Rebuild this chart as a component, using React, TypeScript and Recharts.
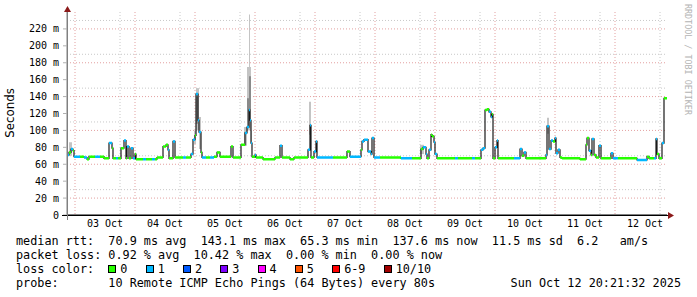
import { ComposedChart, Line, Area, XAxis, YAxis, CartesianGrid } from 'recharts'

const days = ['03 Oct', '04 Oct', '05 Oct', '06 Oct', '07 Oct', '08 Oct', '09 Oct', '10 Oct', '11 Oct', '12 Oct']
const yTicks = [0, 20, 40, 60, 80, 100, 120, 140, 160, 180, 200, 220]
const yMinor = [10, 30, 50, 70, 90, 110, 130, 150, 170, 190, 210, 230]
const hourStart = -3.2
const hourEnd = 236.8

// hours after 03 Oct 00:00 where the median rtt steps, value in ms, lost pings out of 10
const medianHour = [
  -3.2, -2.4, -1.6, -0.8, -0.4, 2.0, 3.6, 4.8, 5.6, 8.0, 10.0, 11.6, 13.6, 14.8, 15.2, 16.4, 17.2, 18.4, 19.6, 20.4,
  20.8, 21.6, 22.4, 23.2, 24.0, 24.4, 27.2, 28.4, 30.8, 32.0, 32.8, 35.2, 36.4, 37.2, 37.6, 39.2, 40.0, 43.2, 44.4, 46.4,
  47.2, 48.0, 48.4, 49.2, 49.6, 50.4, 50.8, 52.4, 54.0, 55.6, 56.8, 58.0, 62.4, 63.2, 66.4, 68.0, 68.8, 69.6, 70.0, 70.4,
  70.8, 72.0, 72.4, 75.2, 80.0, 82.0, 82.8, 86.0, 87.6, 93.2, 94.0, 94.4, 95.6, 96.4, 96.8, 103.2, 108.8, 110.0, 114.4, 114.8,
  115.6, 117.2, 118.4, 118.8, 119.6, 122.0, 130.4, 134.8, 138.4, 139.2, 140.4, 140.8, 141.6, 142.4, 142.8, 143.6, 144.0, 144.8, 152.0, 153.2,
  158.8, 160.0, 162.4, 163.2, 164.0, 164.8, 165.6, 166.4, 166.8, 167.2, 168.0, 168.8, 169.2, 175.6, 178.0, 178.8, 179.6, 180.4, 188.4, 188.8,
  189.6, 190.4, 191.2, 192.0, 192.4, 193.2, 194.0, 194.8, 202.0, 204.4, 204.8, 205.6, 206.4, 206.8, 207.6, 208.4, 209.6, 210.4, 214.4, 215.2,
  217.2, 224.8, 228.8, 229.6, 231.6, 232.4, 232.8, 233.6, 234.8, 235.6,
]
const medianMs = [
  71, 74, 78, 76, 69, 69, 68, 66, 69, 69, 69, 67, 85, 79, 67, 67, 67, 79, 88, 67,
  81, 67, 79, 67, 72, 66, 66, 66, 66, 66, 68, 81, 83, 77, 67, 87, 68, 68, 68, 72,
  89, 94, 143, 112, 98, 74, 68, 68, 68, 69, 74, 69, 81, 68, 83, 97, 104, 124, 112, 85,
  69, 71, 68, 66, 68, 82, 68, 66, 68, 77, 106, 68, 75, 87, 68, 68, 75, 69, 77, 87,
  89, 75, 72, 91, 68, 68, 67, 67, 78, 80, 72, 67, 77, 95, 93, 86, 72, 67, 67, 67,
  67, 67, 77, 79, 124, 125, 122, 116, 119, 67, 80, 88, 67, 67, 78, 70, 74, 67, 71, 105,
  78, 88, 87, 91, 73, 77, 68, 67, 66, 83, 91, 76, 71, 90, 71, 68, 82, 67, 73, 67,
  67, 65, 69, 67, 67, 90, 72, 67, 85, 138,
]
const medianLoss = [
  1, 0, 1, 0, 1, 0, 1, 0, 0, 1, 0, 0, 1, 0, 0, 1, 0, 0, 1, 0,
  1, 0, 1, 1, 0, 0, 1, 0, 1, 0, 0, 0, 0, 1, 0, 1, 0, 1, 0, 1,
  1, 0, 1, 1, 1, 0, 1, 0, 1, 0, 0, 0, 0, 0, 0, 1, 1, 1, 1, 1,
  0, 1, 0, 0, 0, 1, 0, 0, 0, 1, 1, 0, 1, 1, 1, 0, 0, 1, 0, 1,
  1, 1, 1, 1, 1, 0, 1, 0, 0, 1, 1, 0, 1, 0, 0, 1, 1, 0, 1, 0,
  1, 0, 1, 1, 0, 0, 1, 1, 0, 0, 1, 1, 0, 1, 1, 0, 1, 0, 1, 1,
  1, 1, 0, 1, 1, 1, 0, 0, 0, 0, 0, 1, 0, 1, 0, 0, 1, 0, 1, 1,
  0, 1, 0, 0, 1, 1, 0, 0, 1, 0,
]

// smoke (spread of the single pings) around the spikes
const smokeFrom = [-2.4, 47.6, 48.4, 49.6, 67.6, 68.8, 69.6, 70.4, 93.6, 138.0, 188.8]
const smokeTo = [-1.2, 48.4, 49.6, 50.4, 68.8, 70.4, 70.0, 70.8, 94.4, 139.6, 189.6]
const smokeLow = [70, 84, 100, 78, 82, 100, 175, 85, 95, 72, 96]
const smokeHigh = [86, 100, 150, 116, 104, 175, 237, 100, 134, 83, 115]
const coreFrom = [48.4, 68.8, 69.6]
const coreTo = [49.2, 69.6, 70.4]
const coreLow = [108, 104, 124]
const coreHigh = [140, 138, 164]

const lossLabels = ['0', '1', '2', '3', '4', '5', '6-9', '10/10']
const lossColors = ['#26ff00', '#00b8ff', '#0059ff', '#7e00ff', '#ff00ff', '#ff5500', '#ff0000', '#a10000']

const statRtt = 'median rtt:  70.9 ms avg  143.1 ms max  65.3 ms min  137.6 ms now  11.5 ms sd  6.2   am/s'
const statLoss = 'packet loss: 0.92 % avg  10.42 % max  0.00 % min  0.00 % now'
const probeText = 'probe:       10 Remote ICMP Echo Pings (64 Bytes) every 80s'
const stampText = 'Sun Oct 12 20:21:32 2025'

const mono = '"DejaVu Sans Mono", monospace'

const stepData = medianHour
  .map((t, i) => ({ t, v: medianMs[i] }))
  .concat([{ t: hourEnd, v: medianMs[medianMs.length - 1] }])

function segments(loss: number) {
  const out: { t: number; v: number | null }[] = []
  medianHour.forEach((t, i) => {
    if (medianLoss[i] !== loss) return
    const t1 = i + 1 < medianHour.length ? medianHour[i + 1] : hourEnd
    out.push({ t, v: medianMs[i] }, { t: t1, v: medianMs[i] }, { t: t1, v: null })
  })
  return out
}

const gridMajorX = days.map((_, i) => i * 24)
const gridMinorX = days.flatMap((_, i) => [6, 12, 18].map(h => i * 24 + h))
const noonTicks = days.map((_, i) => i * 24 + 12)

function Chart() {
  return (
    <ComposedChart width={697} height={240} margin={{ top: 12, right: 30, bottom: 0, left: 0 }}>
      <CartesianGrid
        horizontalValues={yMinor}
        verticalValues={gridMinorX}
        stroke="#c8c8c8"
        strokeDasharray="1 2"
      />
      <CartesianGrid
        horizontalValues={yTicks.slice(1)}
        verticalValues={gridMajorX}
        stroke="#e3a0a0"
        strokeDasharray="1 2"
      />
      <XAxis
        dataKey="t"
        type="number"
        domain={[hourStart, hourEnd]}
        allowDataOverflow
        ticks={noonTicks}
        tickFormatter={v => days[Math.round((v - 12) / 24)]}
        tickLine={false}
        tickSize={4}
        tickMargin={1}
        height={25}
        axisLine={{ stroke: '#000' }}
        tick={{ fontSize: 10, fontFamily: mono, fill: '#000' }}
      />
      <YAxis
        type="number"
        domain={[0, 240]}
        allowDataOverflow
        ticks={yTicks}
        tickFormatter={v => (v === 0 ? '0' : `${v} m`)}
        width={67}
        tickSize={4}
        tickMargin={4}
        tickLine={{ stroke: '#b0b0b0' }}
        axisLine={{ stroke: '#808080' }}
        tick={{ fontSize: 10, fontFamily: mono, fill: '#000' }}
      />
      {smokeFrom.map((t0, i) => (
        <Area
          key={`s${i}`}
          data={[
            { t: t0, r: [smokeLow[i], smokeHigh[i]] },
            { t: smokeTo[i], r: [smokeLow[i], smokeHigh[i]] },
          ]}
          dataKey="r"
          type="linear"
          stroke="none"
          fill="#c4c4c4"
          fillOpacity={1}
          isAnimationActive={false}
        />
      ))}
      {coreFrom.map((t0, i) => (
        <Area
          key={`c${i}`}
          data={[
            { t: t0, r: [coreLow[i], coreHigh[i]] },
            { t: coreTo[i], r: [coreLow[i], coreHigh[i]] },
          ]}
          dataKey="r"
          type="linear"
          stroke="none"
          fill="#8a8a8a"
          fillOpacity={1}
          isAnimationActive={false}
        />
      ))}
      <Line data={stepData} dataKey="v" type="stepAfter" stroke="#1a1a1a" strokeWidth={1.2} dot={false} isAnimationActive={false} />
      <Line data={segments(0)} dataKey="v" type="linear" stroke={lossColors[0]} strokeWidth={2.5} dot={false} connectNulls={false} isAnimationActive={false} />
      <Line data={segments(1)} dataKey="v" type="linear" stroke={lossColors[1]} strokeWidth={2.5} dot={false} connectNulls={false} isAnimationActive={false} />
    </ComposedChart>
  )
}

export default function App() {
  return (
    <div style={{ position: 'absolute', left: 0, top: 0, width: 697, height: 297, background: '#fff', overflow: 'hidden' }}>
      <div style={{ position: 'absolute', left: 0, top: 0 }}>
        <Chart />
      </div>
      <svg width={697} height={297} style={{ position: 'absolute', left: 0, top: 0, pointerEvents: 'none' }}>
        <line x1={62} y1={215.5} x2={669} y2={215.5} stroke="#000" />
        <line x1={67.5} y1={220} x2={67.5} y2={9} stroke="#808080" />
        <polygon points="668,212 674,215.5 668,219" fill="#8b1a1a" />
        <polygon points="64,12 67.5,6 71,12" fill="#8b1a1a" />
      </svg>
      <div
        style={{
          position: 'absolute', left: 10, top: 113, transform: 'translate(-50%, -50%) rotate(-90deg)',
          fontFamily: '"DejaVu Sans", sans-serif', fontSize: 11.8, whiteSpace: 'nowrap', color: '#000',
        }}
      >
        Seconds
      </div>
      <div
        style={{
          position: 'absolute', left: 683, top: 4, writingMode: 'vertical-rl',
          fontFamily: mono, fontSize: 8.4, color: '#b4b4b4', whiteSpace: 'nowrap',
        }}
      >
        RRDTOOL / TOBI OETIKER
      </div>
      <div
        style={{
          position: 'absolute', left: 16, top: 233.8, fontFamily: mono, fontSize: 11.8,
          lineHeight: '14.2px', whiteSpace: 'pre', color: '#000',
        }}
      >
        <div>{statRtt}</div>
        <div>{statLoss}</div>
        <div>
          {'loss color:  '}
          {lossLabels.map((l, i) => (
            <span key={l}>
              <span
                style={{
                  display: 'inline-block', width: 6, height: 6, border: '1px solid #000',
                  background: lossColors[i], marginRight: 4,
                }}
              />
              <span style={{ marginRight: 18.2 }}>{l}</span>
            </span>
          ))}
        </div>
        <div>{probeText}</div>
      </div>
      <div
        style={{
          position: 'absolute', right: 16, top: 276.4, fontFamily: mono, fontSize: 11.8,
          lineHeight: '14.2px', whiteSpace: 'pre', color: '#000',
        }}
      >
        {stampText}
      </div>
    </div>
  )
}
